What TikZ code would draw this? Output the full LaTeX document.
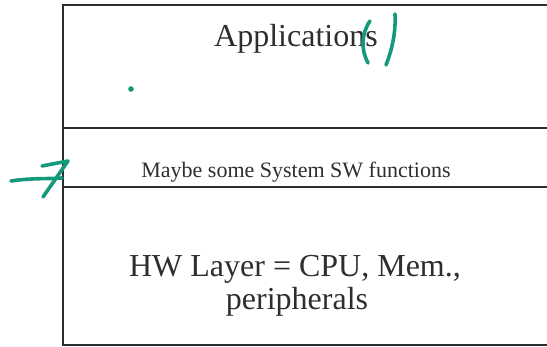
\documentclass[tikz,border=0pt]{standalone}
\usepackage{fontspec}
\setmainfont{Liberation Serif}
\definecolor{ink}{HTML}{2E2E2E}
\definecolor{pen}{HTML}{14997A}
\tikzset{
  boxline/.style={draw=ink, line width=1.6pt},
  penstroke/.style={draw=pen, line width=3.6pt, line cap=round, line join=round},
  bigtext/.style={inner sep=0pt, anchor=base, text=ink, font=\fontsize{32}{34}\selectfont},
  midtext/.style={inner sep=0pt, anchor=base, text=ink, font=\fontsize{22}{24}\selectfont}
}
\begin{document}
\begin{tikzpicture}[x=1pt,y=-1pt]
\useasboundingbox (0,0) rectangle (547,347);
% layer box (open on the right)
\coordinate (tr) at (547,5);
\coordinate (tl) at (63,5);
\coordinate (bl) at (63,345);
\coordinate (br) at (547,345);
\coordinate (l1) at (63,128);
\coordinate (r1) at (547,128);
\coordinate (l2) at (63,187);
\coordinate (r2) at (547,187);
\draw[boxline] (tr) -- (tl) -- (bl) -- (br);
\draw[boxline] (l1) -- (r1);
\draw[boxline] (l2) -- (r2);
% texts
\node[bigtext] (apps) at (296,47) {Applications};
\node[midtext] (sys) at (296,178) {Maybe some System SW functions};
\node[bigtext] (hw1) at (295,277) {HW Layer = CPU, Mem.,};
\node[bigtext] (hw2) at (297,310) {peripherals};
% green handwritten marks
\draw[penstroke] (370,21) .. controls (361,34) and (361,50) .. (368,63);
\draw[penstroke] (395,14) .. controls (396,32) and (392,50) .. (386,65);
\fill[pen] (131,89) circle (2.8);
\draw[penstroke] (11,181) .. controls (30,178) and (48,179) .. (62,178);
\draw[penstroke] (42,166) -- (68,161) -- (43,197);
\end{tikzpicture}
\end{document}
